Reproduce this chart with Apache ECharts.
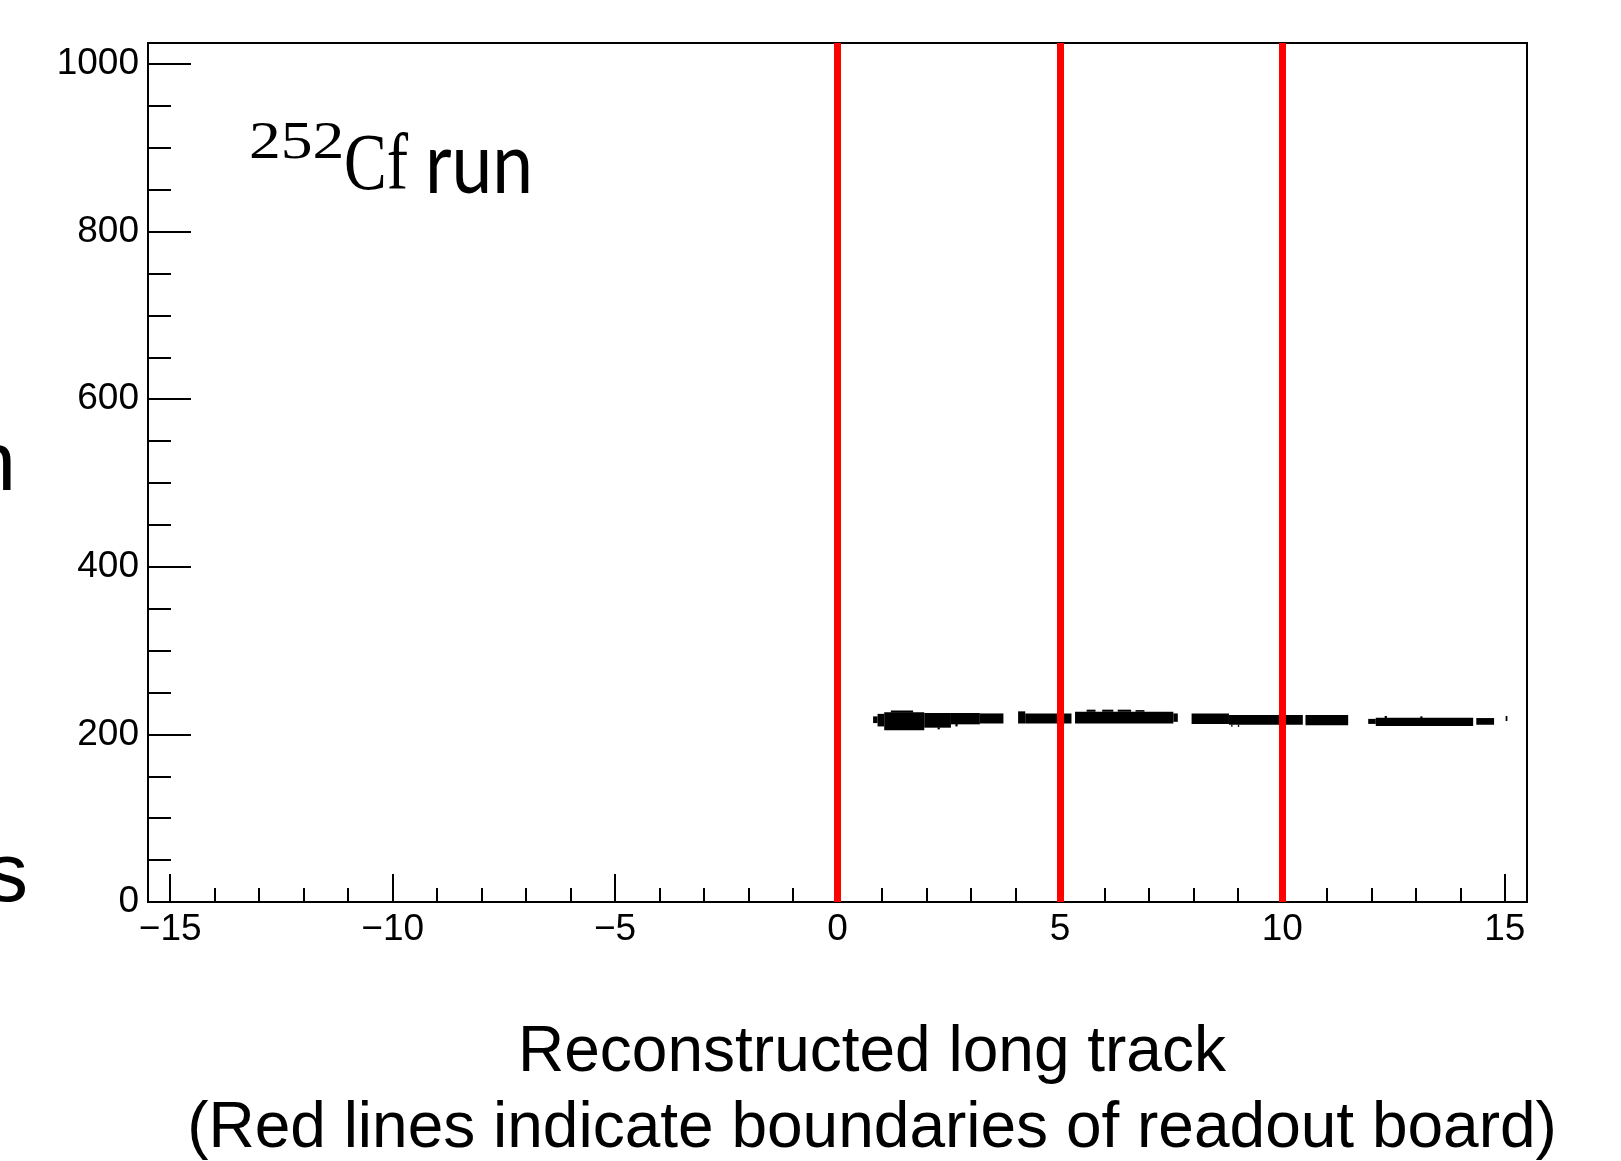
<!DOCTYPE html>
<html>
<head>
<meta charset="utf-8">
<script src="https://cdn.jsdelivr.net/npm/echarts@6/dist/echarts.min.js"></script>
<style>
html,body{margin:0;padding:0;background:#fff;}
#chart{width:1621px;height:1161px;}
</style>
</head>
<body>
<div id="chart"></div>
<script>
// ---- data ----
const xMajorTicks = [-15, -10, -5, 0, 5, 10, 15];
const xTickLabels = ['\u221215', '\u221210', '\u22125', '0', '5', '10', '15'];
const xMinorTicks = [-15,-14,-13,-12,-11,-10,-9,-8,-7,-6,-5,-4,-3,-2,-1,0,1,2,3,4,5,6,7,8,9,10,11,12,13,14,15];
const yMajorTicks = [0, 200, 400, 600, 800, 1000];
const yTickLabels = ['0', '200', '400', '600', '800', '1000'];
const yMinorTicks = [0,50,100,150,200,250,300,350,400,450,500,550,600,650,700,750,800,850,900,950,1000];
const boardBoundaries = [0, 5, 10];
// occupied regions of the 2D histogram: x start, x end, y low, y high
const bandXStart = [0.80, 0.90, 1.05, 1.20, 1.95, 2.55, 3.20, 2.25, 2.65,
                    4.06, 4.22, 5.34, 5.60, 5.95, 6.30, 6.70, 7.55,
                    7.96, 8.80, 8.85, 9.00, 10.52,
                    11.93, 12.10, 12.30, 13.10, 14.36, 15.02];
const bandXEnd   = [0.90, 1.05, 1.95, 1.70, 2.55, 3.20, 3.73, 2.30, 2.70,
                    4.22, 5.26, 7.55, 5.80, 6.20, 6.60, 6.90, 7.65,
                    8.80, 10.46, 8.88, 9.03, 11.48,
                    12.10, 14.29, 12.35, 13.15, 14.76, 15.06];
const bandYLow   = [213.5, 209.5, 205, 226, 208, 212, 213, 206, 209.5,
                    213, 213, 213, 227, 227, 227, 227, 215,
                    212.5, 211.5, 209, 209, 211,
                    212.5, 210, 219.5, 219.5, 211.5, 216];
const bandYHigh  = [221.5, 224.5, 226.5, 228.5, 225.5, 225.5, 225, 208.5, 212.5,
                    227.5, 225, 227, 229.5, 229.5, 229.5, 229, 225,
                    225, 223, 211.5, 211.5, 223,
                    218.5, 220, 222, 221.5, 219.5, 222];

const bandData = bandXStart.map((s, i) => [s, bandXEnd[i], bandYLow[i], bandYHigh[i]]);

const chart = echarts.init(document.getElementById('chart'));
const labelFont = {fontFamily: 'Liberation Sans', fontSize: 37, color: '#000'};
const X_MIN = -15.5, X_MAX = 15.5, Y_MIN = 0, Y_MAX = 1025;

const option = {
  backgroundColor: '#fff',
  animation: false,
  grid: {left: 148, right: 94, top: 43, bottom: 259, show: true, borderColor: '#000', borderWidth: 2, backgroundColor: 'transparent'},
  xAxis: [{
    type: 'value', min: X_MIN, max: X_MAX, position: 'bottom',
    axisLine: {show: true, onZero: false, lineStyle: {color: '#000', width: 2}},
    axisTick: {show: true, inside: true, length: 28, customValues: xMajorTicks, lineStyle: {color: '#000', width: 2}},
    axisLabel: Object.assign({show: true, margin: 9, customValues: xMajorTicks,
      formatter: v => { const i = xMajorTicks.indexOf(Math.round(v)); return i >= 0 ? xTickLabels[i] : ''; }}, labelFont),
    splitLine: {show: false}
  }, {
    type: 'value', min: X_MIN, max: X_MAX, position: 'bottom', gridIndex: 0,
    axisLine: {show: false, onZero: false},
    axisTick: {show: true, inside: true, length: 14, customValues: xMinorTicks, lineStyle: {color: '#000', width: 2}},
    axisLabel: {show: false},
    splitLine: {show: false}
  }],
  yAxis: [{
    type: 'value', min: Y_MIN, max: Y_MAX, position: 'left',
    axisLine: {show: true, onZero: false, lineStyle: {color: '#000', width: 2}},
    axisTick: {show: true, inside: true, length: 43, customValues: yMajorTicks, lineStyle: {color: '#000', width: 2}},
    axisLabel: Object.assign({show: true, margin: 9, customValues: yMajorTicks,
      formatter: v => { const i = yMajorTicks.indexOf(Math.round(v)); return i >= 0 ? yTickLabels[i] : ''; }}, labelFont),
    splitLine: {show: false}
  }, {
    type: 'value', min: Y_MIN, max: Y_MAX, position: 'left', gridIndex: 0,
    axisLine: {show: false, onZero: false},
    axisTick: {show: true, inside: true, length: 23, customValues: yMinorTicks, lineStyle: {color: '#000', width: 2}},
    axisLabel: {show: false},
    splitLine: {show: false}
  }],
  series: [{
    type: 'custom', xAxisIndex: 0, yAxisIndex: 0, z: 2,
    data: bandData,
    encode: {x: [0, 1], y: [2, 3]},
    renderItem: function (params, api) {
      const p0 = api.coord([api.value(0), api.value(3)]);
      const p1 = api.coord([api.value(1), api.value(2)]);
      return {type: 'rect', shape: {x: p0[0], y: p0[1], width: p1[0] - p0[0], height: p1[1] - p0[1]}, style: {fill: '#000'}};
    }
  }, {
    type: 'line', xAxisIndex: 0, yAxisIndex: 0, z: 5, data: [],
    markLine: {
      silent: true, symbol: ['none', 'none'], label: {show: false},
      lineStyle: {color: '#ff0000', width: 7, type: 'solid'},
      data: boardBoundaries.map(v => ({xAxis: v}))
    }
  }],
  graphic: [
    {type: 'text', x: 249, y: 144, scaleX: 1.2, style: {text: '252', font: '53px "Liberation Serif"', fill: '#000', textAlign: 'left', textVerticalAlign: 'middle'}},
    {type: 'text', x: 344, y: 168, scaleX: 0.8, style: {text: 'Cf', font: '80px "Liberation Serif"', fill: '#000', textAlign: 'left', textVerticalAlign: 'middle'}},
    {type: 'text', x: 425, y: 166, scaleX: 0.86, style: {text: 'run', font: '85px Lato', fill: '#000', textAlign: 'left', textVerticalAlign: 'middle'}},
    {type: 'text', x: 872, y: 1053, style: {text: 'Reconstructed long track', font: '64px "Liberation Sans"', fill: '#000', textAlign: 'center', textVerticalAlign: 'middle'}},
    {type: 'text', x: 872, y: 1129, style: {text: '(Red lines indicate boundaries of readout board)', font: '64px "Liberation Sans"', fill: '#000', textAlign: 'center', textVerticalAlign: 'middle'}},
    {type: 'text', x: 16, y: 467, style: {text: 'n', font: '84px "Liberation Sans"', fill: '#000', textAlign: 'right', textVerticalAlign: 'middle'}},
    {type: 'text', x: 28, y: 878, style: {text: 's', font: '84px "Liberation Sans"', fill: '#000', textAlign: 'right', textVerticalAlign: 'middle'}}
  ]
};
chart.setOption(option);
</script>
</body>
</html>
